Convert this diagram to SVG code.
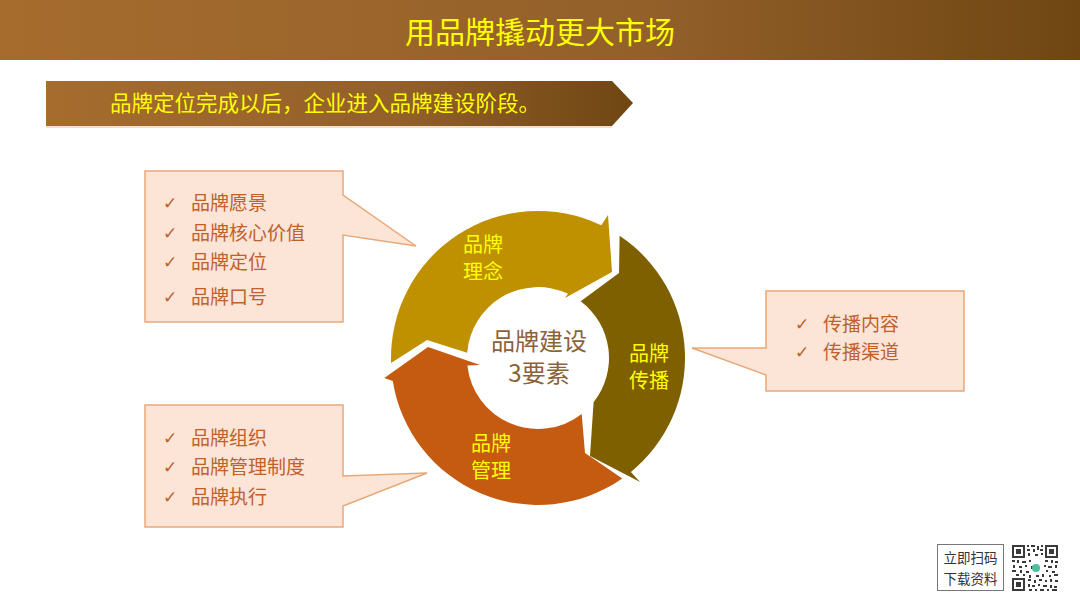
<svg xmlns="http://www.w3.org/2000/svg" width="1080" height="608" viewBox="0 0 1080 608">
<defs>
<linearGradient id="gHead" x1="0" y1="0" x2="1" y2="0">
<stop offset="0" stop-color="#A66C2E"/>
<stop offset="0.6" stop-color="#93602A"/>
<stop offset="1" stop-color="#6F4612"/>
</linearGradient>
<linearGradient id="gBan" x1="0" y1="0" x2="1" y2="0">
<stop offset="0" stop-color="#A66C2E"/>
<stop offset="0.6" stop-color="#93602A"/>
<stop offset="1" stop-color="#6F4612"/>
</linearGradient>
<style>
.cjk{font-family:"Noto Sans CJK SC","Noto Sans",sans-serif}
.lbl{font-family:"Noto Sans CJK SC",sans-serif;font-size:20px;fill:#FFFF00;text-anchor:middle}
.call{fill:#FCE4D6;stroke:#E9A878;stroke-width:1.5}
.item{font-family:"Noto Sans CJK SC",sans-serif;font-size:19px;fill:#C0602A}
.chk{font-family:"DejaVu Sans",sans-serif;font-size:17px;fill:#C0602A}
.qr{fill:#3a3a3a}
</style>
</defs>
<rect width="1080" height="608" fill="#FFFFFF"/>
<g id="header">
<rect x="0" y="0" width="1080" height="60" fill="url(#gHead)"/>
<text x="540" y="43" class="cjk" font-size="30" fill="#FFFF00" text-anchor="middle">用品牌撬动更大市场</text>
</g>
<g id="banner">
<path d="M46 81 H612 L633 103 L612 126 H46 Z" fill="url(#gBan)"/>
<line x1="46" y1="127" x2="612" y2="127" stroke="#E8D6C4" stroke-width="1.5"/>
<text x="110" y="111" class="cjk" font-size="21.5" fill="#FFFF00">品牌定位完成以后，企业进入品牌建设阶段。</text>
</g>
<g id="callout-concept">
<path class="call" d="M145 171 H343 V195 L416 246 L343 235 V322 H145 Z"/>
<text x="163" y="209" class="chk">✓</text><text x="191" y="210" class="item">品牌愿景</text>
<text x="163" y="239" class="chk">✓</text><text x="191" y="240" class="item">品牌核心价值</text>
<text x="163" y="268" class="chk">✓</text><text x="191" y="269" class="item">品牌定位</text>
<text x="163" y="303" class="chk">✓</text><text x="191" y="304" class="item">品牌口号</text>
</g>
<g id="callout-manage">
<path class="call" d="M145 405 H343 V476 L427 473 L343 506 V527 H145 Z"/>
<text x="163" y="444" class="chk">✓</text><text x="191" y="445" class="item">品牌组织</text>
<text x="163" y="473" class="chk">✓</text><text x="191" y="474" class="item">品牌管理制度</text>
<text x="163" y="503" class="chk">✓</text><text x="191" y="504" class="item">品牌执行</text>
</g>
<g id="callout-spread">
<path class="call" d="M766 291 H964 V391 H766 V375 L692 348 L766 348 Z"/>
<text x="795" y="330" class="chk">✓</text><text x="823" y="331" class="item">传播内容</text>
<text x="795" y="358" class="chk">✓</text><text x="823" y="359" class="item">传播渠道</text>
</g>
<g id="arrow-concept">
<path d="M391.1 363.1 A147 147 0 0 1 601.3 225.3 L608 215 L612 272 L565 298 L568 293.7 A71 71 0 0 0 467.2 352.7 L427 340 Z" fill="#BF9000"/>
<text x="483" y="252" class="lbl">品牌</text>
<text x="483" y="279" class="lbl">理念</text>
</g>
<g id="arrow-spread">
<path d="M619.6 235.7 A147 147 0 0 1 630.9 471.9 L640 482 L590 456 L593.6 402.2 A71 71 0 0 0 580.7 301.3 L619 273 Z" fill="#7F6000"/>
<text x="649" y="361" class="lbl">品牌</text>
<text x="649" y="388" class="lbl">传播</text>
</g>
<g id="arrow-manage">
<path d="M622.3 478.4 A147 147 0 0 1 392.8 381 L384.3 378 L428 347 L480 365 L467.4 365.4 A71 71 0 0 0 581.7 413.9 L585 453 Z" fill="#C55A11"/>
<text x="491" y="451" class="lbl">品牌</text>
<text x="491" y="478" class="lbl">管理</text>
</g>
<g id="center">
<text x="539" y="350" class="cjk" font-size="24" fill="#8C6239" text-anchor="middle">品牌建设</text>
<text x="539" y="382" class="cjk" font-size="24" fill="#8C6239" text-anchor="middle">3要素</text>
</g>
<g id="connectors"></g>
<g id="download">
<rect x="937.5" y="544.5" width="66" height="46" fill="#FFFFFF" stroke="#777777" stroke-width="1"/>
<text x="970.5" y="563" class="cjk" font-size="13.5" fill="#333333" text-anchor="middle">立即扫码</text>
<text x="970.5" y="584" class="cjk" font-size="13.5" fill="#333333" text-anchor="middle">下载资料</text>
</g>
<g id="qrcode">
<rect x="1012" y="545" width="46" height="46" fill="#FFFFFF"/>
<path class="qr" fill-rule="evenodd" d="M1012 545h13v13h-13z M1014 547v9h9v-9z M1045 545h13v13h-13z M1047 547v9h9v-9z M1012 578h13v13h-13z M1014 580v9h9v-9z"/>
<rect class="qr" x="1016" y="549" width="5" height="5"/>
<rect class="qr" x="1049" y="549" width="5" height="5"/>
<rect class="qr" x="1016" y="582" width="5" height="5"/>
<path class="qr" d="M1027 545h2v2h-2z M1031 545h4v2h-4z M1037 546h2v4h-2z M1041 545h2v2h-2z M1027 549h3v2h-3z M1033 549h2v3h-2z M1040 549h3v2h-3z M1028 553h2v3h-2z M1035 554h3v2h-3z M1041 553h2v2h-2z M1012 560h3v2h-3z M1017 560h2v3h-2z M1022 561h4v2h-4z M1029 560h2v2h-2z M1045 560h3v2h-3z M1051 560h2v3h-2z M1055 561h3v2h-3z M1013 565h2v3h-2z M1019 566h3v2h-3z M1025 565h2v2h-2z M1031 566h2v3h-2z M1044 565h2v2h-2z M1048 566h4v2h-4z M1055 565h2v3h-2z M1012 570h4v2h-4z M1020 570h2v3h-2z M1026 571h3v2h-3z M1046 570h2v2h-2z M1052 571h3v2h-3z M1016 574h3v2h-3z M1023 574h2v2h-2z M1029 575h2v3h-2z M1036 575h3v2h-3z M1042 574h2v3h-2z M1049 575h2v2h-2z M1054 574h4v2h-4z M1028 579h3v2h-3z M1034 580h2v3h-2z M1039 579h3v2h-3z M1045 580h2v2h-2z M1050 579h2v3h-2z M1055 580h3v2h-3z M1028 584h2v3h-2z M1032 585h3v2h-3z M1038 584h2v2h-2z M1043 585h4v2h-4z M1050 585h2v3h-2z M1054 586h3v2h-3z M1029 589h3v2h-3z M1035 589h2v2h-2z M1040 589h4v2h-4z M1047 589h2v2h-2z M1052 589h5v2h-5z"/>
<circle cx="1036" cy="568" r="4" fill="#4DBF9E"/>
</g>
</svg>
